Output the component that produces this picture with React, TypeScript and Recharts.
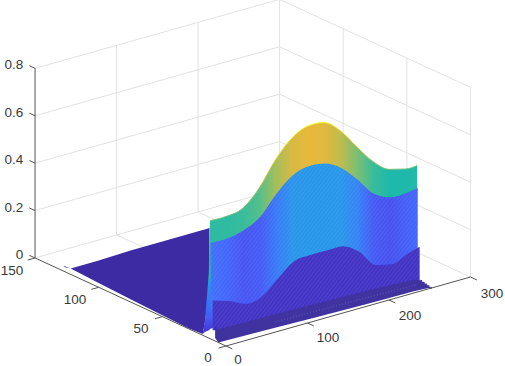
import { ComposedChart, Area, Line, XAxis, YAxis, ReferenceDot, Label } from 'recharts';

// surface profile along x
const xGrid = [0, 20, 40, 60, 80, 100, 120, 140, 160, 180, 200, 220, 240, 254];
const rimZ = [0.498, 0.497, 0.511, 0.576, 0.676, 0.749, 0.781, 0.776, 0.722, 0.635, 0.553, 0.501, 0.483, 0.484];
const shoulderZ = [0.405, 0.404, 0.419, 0.454, 0.532, 0.592, 0.612, 0.604, 0.566, 0.498, 0.419, 0.384, 0.383, 0.391];
const lowZ = [0.166, 0.144, 0.113, 0.123, 0.181, 0.235, 0.242, 0.241, 0.24, 0.197, 0.122, 0.105, 0.132, 0.146];
const stepZ = [0.05, 0.03, 0.02, 0.02, 0.02, 0.02, 0.02, 0.02, 0.02, 0.02, 0.02, 0.02, 0.01, 0.01];
const stepColorZ = [0.035, 0.035, 0.035, 0.035, 0.035, 0.035, 0.035, 0.035, 0.035, 0.035, 0.035, 0.035, 0.035, 0.035];
const footX = [-4, 0, 60, 120, 180, 240, 248, 258, 262];
const footTopZ = [0.069, 0.053, 0.05, 0.045, 0.04, 0.03, 0.022, -0.012, -0.026];
const footBaseZ = [0.023, 0, -0.005, -0.01, -0.014, -0.017, -0.018, -0.02, -0.028];
const speckleX = [70, 130, 190, 244];
const speckleZ = [0.018, 0.016, 0.012, 0.008];

// low floor behind the wall
const floorY = [127, 122, 100, 75, 50, 30, 18.3, 16.5, 13];
const floorFrontZ = [0.019, 0.025, 0.018, 0.012, 0.006, 0.002, 0.005, 0.06, 0.2];
const floorBackZ = [0.043, 0.025, 0.025, 0.03, 0.03, 0.03, 0.03, 0.03, 0.03];
const floorBackEdgeY = 122;

// thin sheet at the x=0 end of the wall
const sideY = [18.3, 16.5, 13.5, 13.1, 12.6, 11, 8.6];
const sideTopZ = [0.005, 0.069, 0.275, 0.41, 0.496, 0.487, 0.186];
const sideBottomZ = [0.005, 0.018, 0.033, 0.035, 0.04, 0.048, 0.059];
const sideStopAt = [0, 0.14, 0.2, 0.5, 0.55, 0.85, 0.96];
const sideStopZ = [0.38, 0.46, 0.385, 0.385, 0.24, 0.13, 0.06];

const xTicks = [0, 100, 200, 300];
const yTicks = [0, 50, 100, 150];
const zTicks = [0, 0.2, 0.4, 0.6, 0.8];
const xTickText = ['0', '100', '200', '300'];
const yTickText = ['0', '50', '100', '150'];
const zTickText = ['0', '0.2', '0.4', '0.6', '0.8'];

const parulaMap = ['#3e26a8', '#4741e6', '#4268fe', '#2b92ed', '#0fa9db', '#1cb9ac', '#54bf8c', '#a0bf5c', '#e6b83d', '#fccb30', '#f9fa14'];
const colorMax = 0.76;

const hexToRgb = (h: string) => [1, 3, 5].map((i) => parseInt(h.slice(i, i + 2), 16));
const parula = (z: number) => {
  const t = Math.max(0, Math.min(1, z / colorMax)) * (parulaMap.length - 1);
  const i = Math.min(Math.floor(t), parulaMap.length - 2);
  const a = hexToRgb(parulaMap[i]);
  const b = hexToRgb(parulaMap[i + 1]);
  const c = a.map((p, k) => Math.round(p + (b[k] - p) * (t - i)));
  return `rgb(${c.join(',')})`;
};

// view of the 3D box
const project = (x: number, y: number, z: number) => ({
  u: 226 + 0.815 * x - 1.273 * y,
  v: 346 - 0.23 * x - 0.587 * y - 237 * z,
});

const band = (xs: number[], y: number, top: number[], bottom: number[], overlap = 0) =>
  xs.map((x, i) => ({
    u: project(x, y, 0).u,
    band: [project(x, y, bottom[i] - overlap).v, project(x, y, top[i]).v],
  }));

const path = (xs: number[], y: number, zs: number[]) => xs.map((x, i) => project(x, y, zs[i]));
const seg = (a: number[], b: number[]) => [project(a[0], a[1], a[2]), project(b[0], b[1], b[2])];

const floorRows = floorY.map((y, i) => {
  const front = project(0, y, floorFrontZ[i]);
  const backX = ((floorBackEdgeY - y) * 1.273) / 0.815;
  const back = project(backX, floorBackEdgeY, floorBackZ[i]);
  return { u: front.u, band: [front.v, back.v] };
});

const sideRows = sideY.map((y, i) => ({
  u: project(0, y, 0).u,
  band: [project(0, y, sideBottomZ[i]).v, project(0, y, sideTopZ[i]).v],
}));

const gridLines = [
  ...zTicks.slice(1).flatMap((z) => [seg([0, 150, z], [300, 150, z]), seg([300, 150, z], [300, 0, z])]),
  ...[100, 200, 300].map((x) => seg([x, 150, 0], [x, 150, 0.8])),
  ...[100, 50, 0].map((y) => seg([300, y, 0], [300, y, 0.8])),
  ...[100, 200].map((x) => seg([x, 0, 0], [x, 150, 0])),
  ...[50, 100].map((y) => seg([0, y, 0], [300, y, 0])),
  seg([0, 150, 0], [300, 150, 0]),
  seg([300, 150, 0], [300, 0, 0]),
];

const axisLines = [
  seg([0, 150, 0], [0, 150, 0.8]),
  seg([0, 150, 0], [0, 0, 0]),
  seg([0, 0, 0], [300, 0, 0]),
  ...zTicks.map((z) => seg([0, 150, z], [0, 154.5, z])),
  ...yTicks.map((y) => seg([0, y, 0], [-9, y, 0])),
  ...xTicks.map((x) => seg([x, 0, 0], [x, -5, 0])),
];

const zLabelPos = [[19.5, 254], [14, 207], [14, 159], [14, 112], [14, 64]];
const yLabelPos = [[208, 357], [141, 328], [75, 299], [12, 270]];
const xLabelPos = [[238, 359], [328, 337], [410, 315], [492, 293]];
const tickLabels = [
  ...zTickText.map((text, i) => ({ text, pos: zLabelPos[i] })),
  ...yTickText.map((text, i) => ({ text, pos: yLabelPos[i] })),
  ...xTickText.map((text, i) => ({ text, pos: xLabelPos[i] })),
];

const gradient = (id: string, xs: number[], zs: number[]) => (
  <linearGradient id={id} x1="0" y1="0" x2="1" y2="0">
    {xs.map((x, i) => (
      <stop key={x} offset={x / xs[xs.length - 1]} stopColor={parula(zs[i])} />
    ))}
  </linearGradient>
);

const fillProps = { stroke: 'none', fillOpacity: 1, dot: false, activeDot: false, isAnimationActive: false } as const;

const App = () => {
  const midRows = band(xGrid, 12, shoulderZ, lowZ, 0.04);
  const lowRows = band(xGrid, 10.5, lowZ, stepZ, 0.01);
  return (
    <div style={{ position: 'absolute', left: 0, top: 0, background: '#fff' }}>
      <ComposedChart width={505} height={366} margin={{ top: 0, right: 0, bottom: 0, left: 0 }}>
        <defs>
          {gradient('bandTop', xGrid, shoulderZ)}
          {gradient('bandMid', xGrid, lowZ)}
          {gradient('bandLow', xGrid, stepColorZ)}
          {gradient('rim', xGrid, rimZ)}
          <linearGradient id="side" x1="0" y1="0" x2="0" y2="1">
            {sideStopAt.map((at, i) => (
              <stop key={at} offset={at} stopColor={parula(sideStopZ[i])} />
            ))}
          </linearGradient>
          <pattern id="hatch" width="3" height="3" patternUnits="userSpaceOnUse" patternTransform="rotate(38)">
            <rect width="1.2" height="3" fill="#fff" fillOpacity="0.07" />
          </pattern>
        </defs>
        <XAxis dataKey="u" type="number" domain={[0, 505]} hide allowDataOverflow />
        <YAxis type="number" domain={[0, 366]} reversed hide allowDataOverflow />

        {gridLines.map((d, i) => (
          <Area key={`g${i}`} data={d} dataKey="v" baseValue="dataMin" stroke="#e2e2e2" strokeWidth={1} fill="none" dot={false} activeDot={false} isAnimationActive={false} />
        ))}

        <Area data={floorRows} dataKey="band" {...fillProps} fill="#3c2ba3" />
        <Area data={sideRows} dataKey="band" {...fillProps} fill="url(#side)" />
        <Area type="monotone" data={band(xGrid, 12.5, rimZ, shoulderZ, 0.03)} dataKey="band" {...fillProps} fill="url(#bandTop)" />
        <Area type="monotone" data={midRows} dataKey="band" {...fillProps} fill="url(#bandMid)" />
        <Area type="monotone" data={midRows} dataKey="band" {...fillProps} fill="url(#hatch)" />
        <Area type="monotone" data={lowRows} dataKey="band" {...fillProps} fill="url(#bandLow)" />
        <Area type="monotone" data={lowRows} dataKey="band" {...fillProps} fill="url(#hatch)" />
        <Area data={band(footX, 6, footTopZ, footBaseZ)} dataKey="band" {...fillProps} fill="#40329f" />

        <Line type="monotone" data={path(xGrid, 12.5, rimZ)} dataKey="v" stroke="url(#rim)" strokeWidth={0.9} dot={false} activeDot={false} isAnimationActive={false} />
        <Line data={path(footX, 6, footTopZ)} dataKey="v" stroke="#40329f" strokeWidth={1.6} strokeDasharray="1.5 1.5" dot={false} activeDot={false} isAnimationActive={false} />
        <Line data={path(speckleX, 6, speckleZ)} dataKey="v" stroke="#6a62c4" strokeOpacity={0.55} strokeWidth={1.6} strokeDasharray="1 2" dot={false} activeDot={false} isAnimationActive={false} />

        {axisLines.map((d, i) => (
          <Line key={`a${i}`} data={d} dataKey="v" stroke="#555" strokeWidth={1} dot={false} activeDot={false} isAnimationActive={false} />
        ))}

        {tickLabels.map((t, i) => (
          <ReferenceDot key={`t${i}`} x={t.pos[0]} y={t.pos[1]} r={0} fill="none" stroke="none">
            <Label value={t.text} position="center" fill="#3a3a3a" fontSize={13.5} fontFamily="Liberation Sans" />
          </ReferenceDot>
        ))}
      </ComposedChart>
    </div>
  );
};

export default App;
